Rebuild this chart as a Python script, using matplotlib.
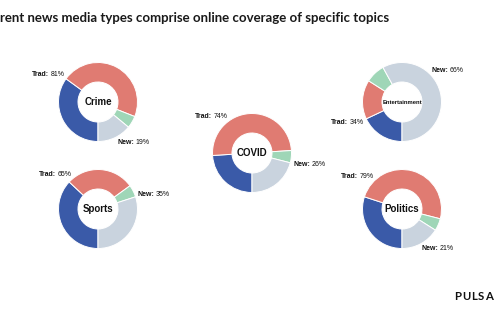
import matplotlib
matplotlib.use("Agg")
import matplotlib.pyplot as plt
from matplotlib.offsetbox import TextArea, HPacker, AnnotationBbox

# темы и доли типов СМИ (традиционные: две части, новые: две части)
topics = ["Crime", "COVID", "Entertainment", "Sports", "Politics"]
trad_a = [35, 24, 18, 37, 30]
trad_b = [46, 50, 16, 28, 49]
new_a = [5, 5, 8, 5, 5]
new_b = [14, 21, 58, 30, 16]

colors = ["#3a5aa8", "#e07b72", "#9fd6b7", "#c9d3de"]

W, H = 500, 330
# центры бубликов в пикселях (y сверху вниз)
centers = [(98, 102), (252, 153), (402, 102), (98, 209), (402, 209)]
# смещения подписей Trad / New относительно центра
trad_off = [(-33, -27), (-24, -37), (-38, 21), (-26, -34), (-28, -32)]
new_off = [(19, 41), (41, 12), (29, -31), (39, -15), (19, 39)]

fig = plt.figure(figsize=(W / 100, H / 100), dpi=100)
ax = fig.add_axes([0, 0, 1, 1])

R = 39.5


def pct_label(x, y, name, pct, align):
    # жирное "Trad:" + обычный процент
    box = HPacker(children=[
        TextArea(name + ":", textprops=dict(fontweight="bold", fontsize=5,
                                             family="Liberation Sans", color="#111111")),
        TextArea(f"{pct}%", textprops=dict(fontsize=5, family="Liberation Sans",
                                           color="#111111")),
    ], pad=0, sep=1.3, align="baseline")
    ab = AnnotationBbox(box, (x, y), xycoords="data", box_alignment=(align, 0.5),
                        frameon=False, pad=0)
    ax.add_artist(ab)


for i, name in enumerate(topics):
    vals = [trad_a[i], trad_b[i], new_a[i], new_b[i]]
    cx, cy = centers[i]
    ax.pie(vals, center=(cx, cy), radius=R, startangle=90, counterclock=True,
           colors=colors, frame=True,
           wedgeprops=dict(width=R - 20, edgecolor="white", linewidth=0.7))
    size = 4.2 if name == "Entertainment" else 7
    ax.text(cx, cy, name, ha="center", va="center", fontsize=size,
            fontweight="bold", family="Liberation Sans", color="#111111")
    trad = trad_a[i] + trad_b[i]
    new = new_a[i] + new_b[i]
    tx, ty = trad_off[i]
    nx, ny = new_off[i]
    pct_label(cx + tx, cy + ty, "Trad", trad, 1)
    pct_label(cx + nx, cy + ny, "New", new, 0)

ax.text(0, 18, "rent news media types comprise online coverage of specific topics",
        ha="left", va="center", fontsize=9.55, fontweight="bold", family="Lato",
        color="#1a1a1a")

# логотип с разрядкой букв
logo = HPacker(children=[
    TextArea(ch, textprops=dict(fontsize=8.2, fontweight="bold", family="Lato",
                                color="#111111"))
    for ch in "PULSA"], pad=0, sep=0.7, align="baseline")
ax.add_artist(AnnotationBbox(logo, (454, 296), xycoords="data",
                             box_alignment=(0, 0.5), frameon=False, pad=0))

ax.set_xlim(0, W)
ax.set_ylim(H, 0)
ax.set_aspect("equal")
ax.axis("off")

fig.savefig("out.png", dpi=100)
